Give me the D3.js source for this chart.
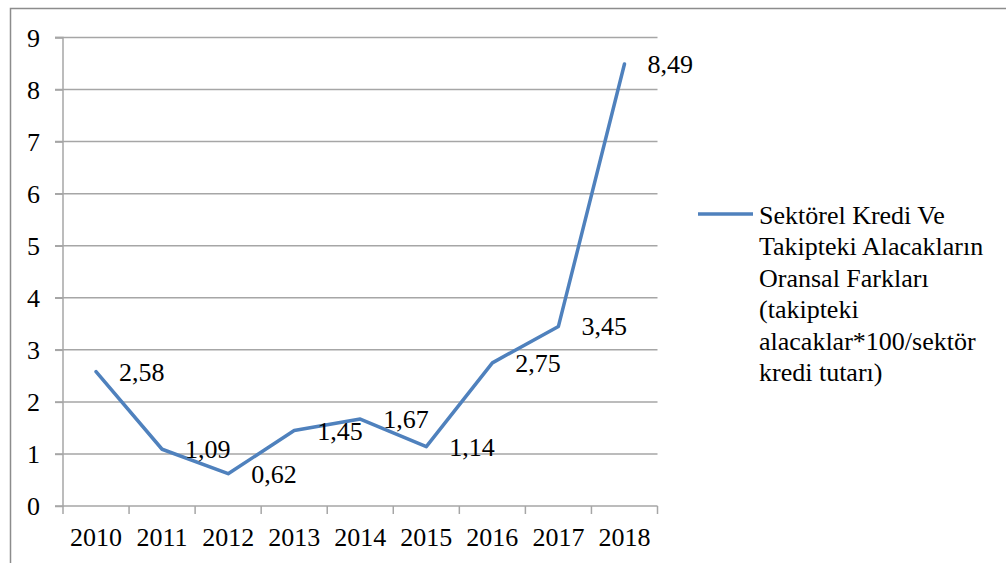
<!DOCTYPE html>
<html><head><meta charset="utf-8">
<script src="https://cdn.jsdelivr.net/npm/d3@7"></script>
<style>body{margin:0;background:#fff}svg{display:block}
svg text{font-family:'Liberation Serif','Times New Roman',Tinos,'DejaVu Serif',serif !important;font-size:26px;fill:#000}</style>
</head><body>
<script>
const years = ["2010","2011","2012","2013","2014","2015","2016","2017","2018"];
const values = [2.58,1.09,0.62,1.45,1.67,1.14,2.75,3.45,8.49];
const valueLabels = ["2,58","1,09","0,62","1,45","1,67","1,14","2,75","3,45","8,49"];
const yTicks = [0,1,2,3,4,5,6,7,8,9];
const legendLines = ["Sektörel Kredi Ve","Takipteki Alacakların","Oransal Farkları","(takipteki","alacaklar*100/sektör","kredi tutarı)"];

(function(){
const W=1006,H=563;
const svg=d3.select("body").append("svg").attr("width",W).attr("height",H);
svg.append("rect").attr("width",W).attr("height",H).attr("fill","#fff");
svg.append("rect").attr("x",10.5).attr("y",8.5).attr("width",W+20).attr("height",H+20)
  .attr("fill","none").attr("stroke","#8c8c8c").attr("stroke-width",1.5);

const pL=63,pR=657.5,pT=37.5,pB=506;
const x=d3.scaleBand().domain(years).range([pL,pR]).padding(0);
const y=d3.scaleLinear().domain([0,9]).range([pB,pT]);
const grid="#a6a6a6";

svg.append("g").selectAll("line").data(yTicks.filter(d=>d>0)).join("line")
  .attr("x1",pL-8).attr("x2",pR).attr("y1",d=>y(d)).attr("y2",d=>y(d))
  .attr("stroke",grid).attr("stroke-width",1.5);

const ya=svg.append("g").attr("transform",`translate(${pL},0)`)
  .call(d3.axisLeft(y).tickValues(yTicks).tickSize(8).tickPadding(15).tickFormat(d3.format("d")));
ya.select(".domain").attr("stroke",grid).attr("stroke-width",1.5).attr("d",`M-8,${pT}H0V${pB}H-8`);
ya.selectAll(".tick line").attr("stroke",grid).attr("stroke-width",1.5);
ya.selectAll(".tick text").attr("dy","0.33em");

const xa=svg.append("g").attr("transform",`translate(0,${pB})`)
  .call(d3.axisBottom(x).tickSize(0).tickPadding(22));
xa.select(".domain").remove();
svg.append("line").attr("x1",pL).attr("x2",pR).attr("y1",pB).attr("y2",pB)
  .attr("stroke",grid).attr("stroke-width",1.5);
const bounds=years.map(d=>x(d)).concat([x(years[years.length-1])+x.bandwidth()]);
svg.append("g").selectAll("line").data(bounds).join("line")
  .attr("x1",d=>d).attr("x2",d=>d).attr("y1",pB).attr("y2",pB+8)
  .attr("stroke",grid).attr("stroke-width",1.5);

const cx=d=>x(d)+x.bandwidth()/2;
svg.append("path").datum(values.map((v,i)=>[cx(years[i]),y(v)]))
  .attr("d",d3.line()).attr("fill","none").attr("stroke","#4f81bd").attr("stroke-width",3.5)
  .attr("stroke-linejoin","round").attr("stroke-linecap","round");

svg.append("g").selectAll("text").data(values).join("text")
  .attr("x",(v,i)=>cx(years[i])+23).attr("y",v=>y(v)+9)
  .text((v,i)=>valueLabels[i]);

svg.append("line").attr("x1",698).attr("x2",753).attr("y1",214).attr("y2",214)
  .attr("stroke","#4f81bd").attr("stroke-width",3.5);
svg.append("g").selectAll("text").data(legendLines).join("text")
  .attr("x",759).attr("y",(d,i)=>224+i*31.4).text(d=>d);
})();
</script>
</body></html>
